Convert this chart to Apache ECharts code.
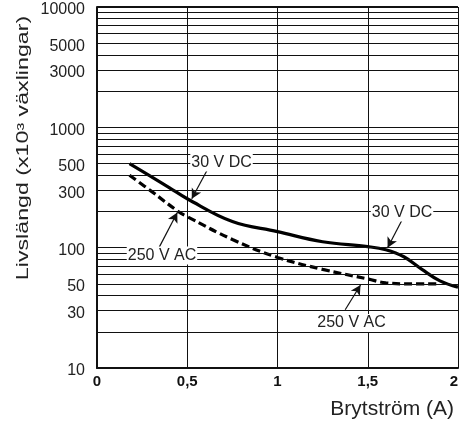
<!DOCTYPE html>
<html>
<head>
<meta charset="utf-8">
<script src="https://cdn.jsdelivr.net/npm/echarts@6/dist/echarts.min.js"></script>
<style>
  html, body { margin: 0; padding: 0; background: #fff; }
  #chart { width: 461px; height: 422px; }
</style>
</head>
<body>
<div id="chart"></div>
<script>
// Contact life vs. switched current, log-scaled life axis
const dcCurrent = [0.18, 0.3, 0.4, 0.5, 0.75, 1.0, 1.25, 1.5, 1.6, 1.7, 1.8, 1.9, 2.0];
const dcLife    = [500, 390, 316, 255, 165, 136, 112, 102, 96, 84, 66, 53, 47];

const acCurrent = [0.18, 0.3, 0.45, 0.5, 0.75, 1.0, 1.25, 1.5, 1.6, 1.75, 1.88];
const acLife    = [400, 295, 200, 181, 117, 83, 66, 55, 51, 50, 50];

// Horizontal rulings of the log grid and the values that carry a label
const gridValues = [10, 20, 30, 40, 50, 60, 70, 80, 90, 100,
                    200, 300, 400, 500, 600, 700, 800, 900, 1000,
                    2000, 3000, 4000, 5000, 6000, 7000, 8000, 9000, 10000];
const yTickLabels = [10, 30, 50, 100, 300, 500, 1000, 3000, 5000, 10000];
const xTickLabels = ['0', '0,5', '1', '1,5', '2'];

const seriesNames = ['30 V DC', '250 V AC'];

const chart = echarts.init(document.getElementById('chart'), null, { renderer: 'canvas' });

const annFont = { fontFamily: 'Liberation Sans, Arial, sans-serif', fontSize: 16, color: '#222' };

function pairs(xs, ys) { return xs.map((x, i) => [x, ys[i]]); }

function textMark(name, coord) {
  return {
    coord: coord, symbolSize: 0,
    label: Object.assign({ show: true, formatter: name, position: 'inside',
      backgroundColor: '#fff', padding: [1, 1] }, annFont)
  };
}
function arrow(from, to) {
  return [{ coord: from }, { coord: to }];
}

const option = {
  animation: false,
  grid: { left: 97, right: 0, top: 7, bottom: 54 },
  xAxis: {
    type: 'value', min: 0, max: 2, interval: 0.5,
    axisLine: { show: true, onZero: false, lineStyle: { color: '#111', width: 2 } },
    axisTick: { show: false },
    splitLine: { show: true, lineStyle: { color: '#111', width: 1 } },
    axisLabel: {
      fontFamily: 'Liberation Sans, Arial, sans-serif', fontSize: 15, fontWeight: 'bold',
      color: '#111', margin: 6, alignMaxLabel: 'right',
      formatter: v => xTickLabels[Math.round(v / 0.5)]
    },
    name: 'Brytström (A)', nameLocation: 'end', nameGap: -4,
    nameTextStyle: { fontFamily: 'Liberation Sans, Arial, sans-serif', fontSize: 21,
      color: '#222', align: 'right', verticalAlign: 'top', padding: [31, 0, 0, 0] }
  },
  yAxis: {
    type: 'log', logBase: 10, min: 10, max: 10000,
    axisLine: { show: true, lineStyle: { color: '#111', width: 2 } },
    axisTick: { show: false },
    axisLabel: { show: false },
    splitLine: { show: false }
  },
  graphic: [{
    type: 'text', x: 24, y: 148, rotation: Math.PI / 2, scaleX: 1.45,
    style: { text: 'Livslängd (x10³ växlingar)', fontFamily: 'Liberation Sans, Arial, sans-serif',
      fontSize: 16, fill: '#222', align: 'center', verticalAlign: 'middle' }
  }],
  series: [
    {
      name: 'grid', type: 'line', data: [], z: 1, silent: true,
      markLine: {
        silent: true, symbol: 'none',
        lineStyle: { color: '#111', width: 1, type: 'solid' },
        data: gridValues.map(v => ({
          yAxis: v,
          lineStyle: v === 10000 ? { width: 2 } : undefined,
          label: yTickLabels.indexOf(v) >= 0
            ? Object.assign({ show: true, position: 'start', distance: 12,
                offset: [0, 3], formatter: String(v) }, annFont)
            : { show: false }
        }))
      }
    },
    {
      name: seriesNames[0], type: 'line', z: 3,
      data: pairs(dcCurrent, dcLife),
      smooth: 0.4, symbol: 'none',
      lineStyle: { color: '#000', width: 3.2 },
      markPoint: { silent: true, data: [
        textMark(seriesNames[0], [0.69, 510]),
        textMark(seriesNames[0], [1.69, 196])
      ] },
      markLine: {
        silent: true, symbol: ['none', 'arrow'], symbolSize: [8, 10],
        lineStyle: { color: '#111', width: 1.2, type: 'solid' },
        label: { show: false },
        data: [arrow([0.61, 440], [0.525, 255]), arrow([1.69, 170], [1.61, 100])]
      }
    },
    {
      name: seriesNames[1], type: 'line', z: 3,
      data: pairs(acCurrent, acLife),
      smooth: 0.4, symbol: 'none',
      lineStyle: { color: '#000', width: 3.2, type: [8, 4] },
      markPoint: { silent: true, data: [
        textMark(seriesNames[1], [0.36, 86]),
        textMark(seriesNames[1], [1.41, 23.7])
      ] },
      markLine: {
        silent: true, symbol: ['none', 'arrow'], symbolSize: [8, 10],
        lineStyle: { color: '#111', width: 1.2, type: 'solid' },
        label: { show: false },
        data: [arrow([0.345, 101], [0.445, 196]), arrow([1.375, 30.5], [1.46, 49])]
      }
    }
  ]
};

chart.setOption(option);
</script>
</body>
</html>
